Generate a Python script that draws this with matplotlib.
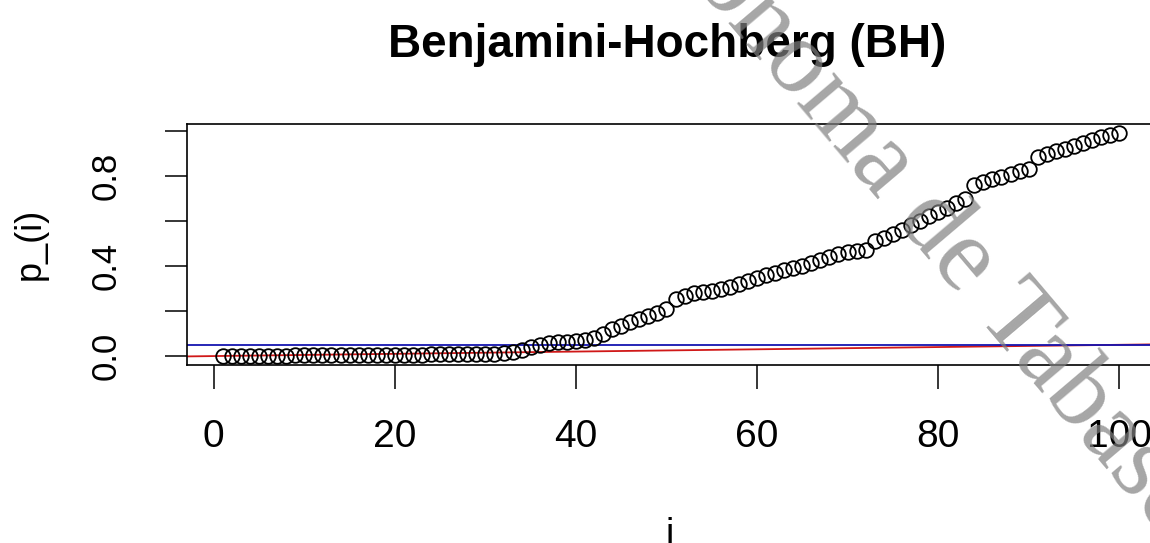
import matplotlib
matplotlib.use("Agg")
import matplotlib.pyplot as plt

# sorted p-values p_(i)
p_sorted = [0.0002, 0.0005, 0.0009, 0.0012, 0.0016, 0.0019, 0.0023, 0.0025, 0.0028, 0.0031,
            0.0034, 0.0036, 0.0039, 0.0042, 0.0044, 0.0047, 0.0050, 0.0053, 0.0056, 0.0059,
            0.0062, 0.0065, 0.0068, 0.0071, 0.0074, 0.0077, 0.0080, 0.0084, 0.0088, 0.0093, 0.0098,
            0.013, 0.020, 0.028, 0.040, 0.050, 0.057, 0.061, 0.064, 0.067, 0.071, 0.078,
            0.098, 0.118, 0.134, 0.150, 0.164, 0.178, 0.192, 0.208,
            0.255, 0.268, 0.278, 0.284, 0.290, 0.298, 0.305, 0.318, 0.333, 0.345,
            0.358, 0.370, 0.383, 0.390, 0.400, 0.415, 0.428, 0.440, 0.453, 0.460, 0.465, 0.470,
            0.510, 0.525, 0.540, 0.560, 0.580, 0.600, 0.620, 0.638, 0.655, 0.678, 0.695,
            0.760, 0.773, 0.785, 0.795, 0.808, 0.820, 0.830,
            0.885, 0.898, 0.908, 0.920, 0.933, 0.945, 0.958, 0.972, 0.983, 0.990]
i_index = list(range(1, len(p_sorted) + 1))
alpha = 0.05
m = len(p_sorted)

x_ticks = [0, 20, 40, 60, 80, 100]
y_ticks = [0.0, 0.2, 0.4, 0.6, 0.8, 1.0]
y_ticklabels = ["0.0", "", "0.4", "", "0.8", ""]

plt.rcParams['font.family'] = ['Liberation Sans', 'DejaVu Sans']

W, H = 1150, 543
fig = plt.figure(figsize=(W / 100, H / 100), dpi=100)
# plot box runs a little past the right edge, as in the cropped original
ax = fig.add_axes([187 / W, (H - 365) / H, (1155 - 187) / W, (365 - 124) / H])

ax.plot(i_index, p_sorted, linestyle='none', marker='o', markersize=10.5,
        markerfacecolor='none', markeredgecolor='black', markeredgewidth=1.3, zorder=3)
ax.axline((0, 0), slope=alpha / m, color='#d01818', lw=1.3, zorder=2)
ax.axhline(alpha, color='#1515b0', lw=1.3, zorder=2)

ax.set_xlim(-2.96, 103.96)
ax.set_ylim(-0.0396, 1.0296)
ax.set_xticks(x_ticks)
ax.set_xticklabels([str(v) for v in x_ticks], fontsize=28)
ax.set_yticks(y_ticks)
ax.set_yticklabels(y_ticklabels, fontsize=25, rotation=90, va='center')
ax.tick_params(axis='x', length=17, width=1.1, pad=22)
ax.tick_params(axis='y', length=16, width=1.1, pad=30)
for s in ax.spines.values():
    s.set_linewidth(1.2)

fig.text(667 / W, 1 - 45 / H, "Benjamini-Hochberg (BH)", ha='center', va='center',
         fontsize=33, fontweight='bold')
fig.text(670 / W, 1 - 535 / H, "i", ha='center', va='center', fontsize=27)
fig.text(30 / W, 1 - 244 / H, "p_(i)", ha='center', va='center', fontsize=26, rotation=90)

# diagonal watermark
fig.text(590 / W, 1 + 140 / H, "Autónoma de Tabasco", rotation=-49.7, rotation_mode='anchor',
         ha='left', va='baseline', fontsize=76, family='Liberation Serif',
         color='0.5', alpha=0.7, zorder=10)

fig.savefig("out.png", dpi=100)
